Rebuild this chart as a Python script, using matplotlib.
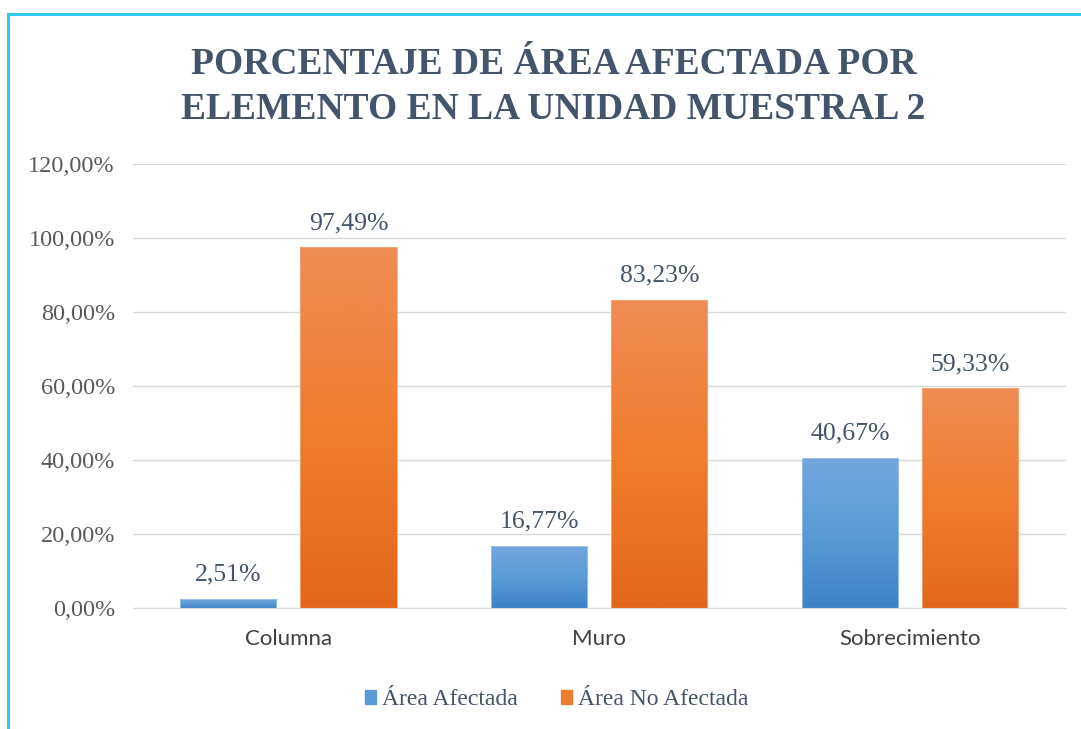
import matplotlib
matplotlib.use("Agg")
import matplotlib.pyplot as plt
import numpy as np
from matplotlib.colors import LinearSegmentedColormap
from matplotlib.lines import Line2D
from matplotlib.patches import Rectangle

categories = ["Columna", "Muro", "Sobrecimiento"]
series_names = ["Área Afectada", "Área No Afectada"]
afectada = [2.51, 16.77, 40.67]
no_afectada = [97.49, 83.23, 59.33]
yticks = [0, 20, 40, 60, 80, 100, 120]
ytick_labels = ["0,00%", "20,00%", "40,00%", "60,00%", "80,00%", "100,00%", "120,00%"]
title = "PORCENTAJE DE ÁREA AFECTADA POR\nELEMENTO EN LA UNIDAD MUESTRAL 2"

fig = plt.figure(figsize=(10.81, 7.29), dpi=100)
ax = fig.add_axes([0.123, 0.166, 0.863, 0.609])

serif = "Liberation Serif"
x = np.arange(len(categories))
w = 0.309
off = 0.193

grads = [
    LinearSegmentedColormap.from_list("b", ["#3E83C6", "#5B9BD5", "#72A7DD"]),
    LinearSegmentedColormap.from_list("o", ["#E2671A", "#F07D2C", "#F08C56"]),
]
legend_cols = ["#5B9BD5", "#ED7D31"]
edge_cols = ["#9EC3E8", "#F4A77A"]

for si, (vals, sgn) in enumerate([(afectada, -1), (no_afectada, 1)]):
    bars = ax.bar(x + sgn * off, vals, width=w, color="none", edgecolor=edge_cols[si], linewidth=0.6, zorder=3)
    for b, v in zip(bars, vals):
        x0 = b.get_x()
        grad = np.linspace(0, 1, 256).reshape(-1, 1)
        im = ax.imshow(grad, cmap=grads[si], origin="lower", aspect="auto",
                       extent=[x0, x0 + b.get_width(), 0, v], zorder=2)
        im.set_clip_path(b)
        ax.text(b.get_x() + b.get_width() / 2, v + 3.6, f"{v:.2f}%".replace(".", ","),
                ha="center", va="bottom", fontsize=18.5, family=serif, color="#44546A", zorder=4)

ax.set_xlim(-0.5, 2.5)
ax.set_ylim(0, 120)
ax.set_yticks(yticks)
ax.set_yticklabels(ytick_labels, family=serif, fontsize=17.5, color="#595959")
ax.set_xticks(x)
ax.set_xticklabels(categories, family="Lato", fontsize=16, color="#404040")
ax.tick_params(axis="both", length=0)
ax.tick_params(axis="y", pad=13)
ax.tick_params(axis="x", pad=15)
ax.grid(axis="y", color="#D9D9D9", linewidth=1, zorder=0)
for s in ["top", "right", "left"]:
    ax.spines[s].set_visible(False)
ax.spines["bottom"].set_color("#D9D9D9")
ax.set_axisbelow(True)

fig.text(0.512, 0.880, title, ha="center", va="center", fontsize=27, fontweight="bold",
         family=serif, color="#44546A", linespacing=1.37)

handles = [Rectangle((0, 0), 1, 1, color=c) for c in legend_cols]
fig.legend(handles, series_names, loc="center", bbox_to_anchor=(0.515, 0.040), ncol=2,
           frameon=False, prop={"family": serif, "size": 17}, handlelength=0.5, handleheight=0.5,
           handletextpad=0.25, columnspacing=1.8, labelcolor="#44546A")

# outer border (cyan)
fig.add_artist(Line2D([8 / 1081, 8 / 1081], [0, 1 - 14 / 729], color="#2FC8F0", linewidth=2.2))
fig.add_artist(Line2D([8 / 1081, 1], [1 - 14 / 729, 1 - 14 / 729], color="#2FC8F0", linewidth=2.2))

fig.savefig("out.png", dpi=100, facecolor="white")
